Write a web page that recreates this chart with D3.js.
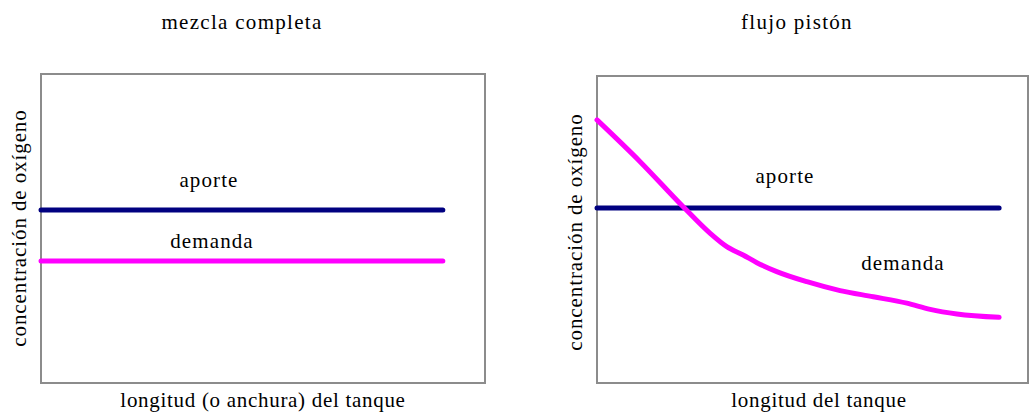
<!DOCTYPE html>
<html><head><meta charset="utf-8">
<script src="https://cdn.jsdelivr.net/npm/d3@7"></script>
<style>body{margin:0;background:#fff}svg{display:block}</style>
</head><body><svg id="c" width="1029" height="414"></svg>
<script>
// ---- data ----
const panelTitles = ["mezcla completa", "flujo pistón"];
const xLabels = ["longitud (o anchura) del tanque", "longitud del tanque"];
const yLabel = "concentración de oxígeno";
const seriesNames = ["aporte", "demanda"];
// left panel (mezcla completa): x positions along tank (0-100), values (0-100)
const mixX = [0, 90.5];
const mixAporte = [56, 56];
const mixDemanda = [39.5, 39.5];
// right panel (flujo pistón)
const plugX = [0, 10, 20, 26.2, 30.1, 33.9, 37.1, 41.7, 48.7, 56.4, 64.1, 71.9, 77.3, 83.5, 93.3];
const plugAporte = [57, 57, 57, 57, 57, 57, 57, 57, 57, 57, 57, 57, 57, 57, 57];
const plugDemanda = [85.7, 72.1, 57.4, 48.8, 44.4, 41.7, 39.2, 36.3, 33.0, 30.1, 28.1, 26.0, 24.0, 22.5, 21.4];

const FONT = "Liberation Serif";
const svg = d3.select("#c");
const colors = {aporte: "#000080", demanda: "#ff00ff"};

const panels = [
  {box: {l: 41, r: 485, t: 74, b: 383}, title: panelTitles[0], titleX: 242, xLabel: xLabels[0], xLabelX: 263, yLabelX: 26, yLabelY: 228,
   xs: mixX, series: [mixAporte, mixDemanda],
   labels: [{name: seriesNames[0], x: 209, y: 187}, {name: seriesNames[1], x: 212, y: 248}]},
  {box: {l: 597, r: 1028, t: 76, b: 383}, title: panelTitles[1], titleX: 797, xLabel: xLabels[1], xLabelX: 819, yLabelX: 582, yLabelY: 232,
   xs: plugX, series: [plugAporte, plugDemanda],
   labels: [{name: seriesNames[0], x: 785, y: 183}, {name: seriesNames[1], x: 903, y: 270}]}
];

function txt(g, s, ls) {
  return g.append("text").attr("font-family", FONT).attr("font-size", 21)
    .attr("letter-spacing", ls).attr("fill", "#000").text(s);
}

panels.forEach(p => {
  const g = svg.append("g");
  const x = d3.scaleLinear().domain([0, 100]).range([p.box.l, p.box.r]);
  const y = d3.scaleLinear().domain([0, 100]).range([p.box.b, p.box.t]);
  g.append("rect").attr("x", p.box.l).attr("y", p.box.t)
    .attr("width", p.box.r - p.box.l).attr("height", p.box.b - p.box.t)
    .attr("fill", "none").attr("stroke", "#8c8c8c").attr("stroke-width", 2);
  const line = d3.line().x((d, i) => x(p.xs[i])).y(d => y(d)).curve(d3.curveMonotoneX);
  p.series.forEach((s, i) => {
    g.append("path").attr("d", line(s)).attr("fill", "none")
      .attr("stroke", colors[seriesNames[i]]).attr("stroke-width", 5)
      .attr("stroke-linecap", "round").attr("stroke-linejoin", "round");
  });
  p.labels.forEach(l => {
    txt(g, l.name, 1.1).attr("x", l.x).attr("y", l.y).attr("text-anchor", "middle");
  });
  txt(g, p.title, 1.3).attr("x", p.titleX).attr("y", 29).attr("text-anchor", "middle");
  txt(g, p.xLabel, 0.7).attr("x", p.xLabelX).attr("y", 407).attr("text-anchor", "middle");
  txt(g, yLabel, 0.9).attr("transform", `translate(${p.yLabelX},${p.yLabelY}) rotate(-90)`)
    .attr("text-anchor", "middle");
});
</script></body></html>
